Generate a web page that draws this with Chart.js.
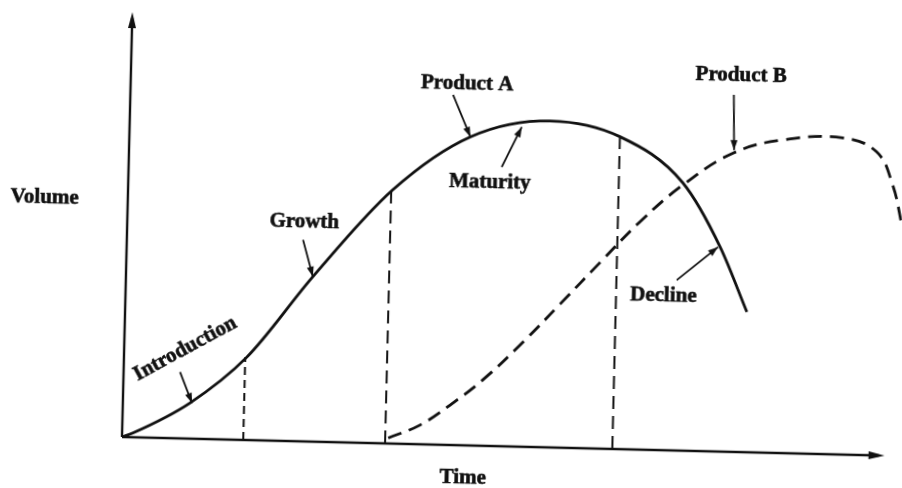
<!DOCTYPE html>
<html>
<head>
<meta charset="utf-8">
<script src="https://cdn.jsdelivr.net/npm/chart.js@4"></script>
<style>
    html, body { margin: 0; padding: 0; background: #fff; overflow: hidden; }
    #wrap { width: 902px; height: 488px; }
    /* the scan is turned a little clockwise */
    #chart1 { transform: rotate(1.4deg); transform-origin: 122px 437px; }
</style>
</head>
<body>
<div id="wrap"><canvas id="chart1" width="902" height="488"></canvas></div>
<script>
// Product life cycle (0-100 on both axes)
const productAX = [0, 1.4, 8.8, 16.1, 24.5, 34.7, 44.7, 55.1, 64.3, 72.7, 77.8, 81.5];
const productAY = [0, 1.0, 8.4, 19.5, 38.8, 59.7, 72.6, 76.8, 73.5, 63.0, 48.1, 33.0];
const productBX = [34.9, 39.0, 42.9, 47.1, 52.3, 57.0, 62.1, 67.2, 72.7, 79.2, 85.7, 93.5, 98.0, 100.2, 101.6];
const productBY = [1.3, 4.5, 9.4, 15.5, 24.7, 33.8, 43.8, 53.6, 62.5, 70.3, 73.7, 74.5, 71.4, 63.7, 53.9];

// stage boundaries (dashed verticals) and where they meet curve A
const stageX = [15.9, 34.5, 64.3];
const stageTop = [19.5, 59.7, 73.3];

const labelNames = ["Introduction", "Growth", "Product A", "Maturity", "Product B", "Decline"];

document.addEventListener("DOMContentLoaded", () => {
    const chartCanvas = document.getElementById("chart1");
    const font = "bold 21px 'Liberation Serif', 'DejaVu Serif', serif";

    // label anchor, rotation and arrow (tail -> head) in data units
    const callouts = [
        { at: [8.0, 21.1], angle: -29.9, tail: [7.4, 15.6], head: [9.07, 8.4] },
        { at: [23.2, 51.6], angle: 0, tail: [23.1, 47.4], head: [24.5, 38.8] },
        { at: [44.1, 85.0], angle: 0, tail: [42.3, 82.4], head: [44.7, 72.6] },
        { at: [47.4, 61.9], angle: 0, tail: [48.9, 65.7], head: [51.4, 75.2] },
        { at: [80.0, 88.5], angle: 0, tail: [79.1, 84.0], head: [79.3, 71.0] },
        { at: [70.5, 36.3], angle: 0, tail: [72.2, 40.1], head: [77.5, 48.1] }
    ];

    function toPoints(xs, ys) {
        return xs.map((x, i) => ({ x: x, y: ys[i] }));
    }

    function arrowHead(ctx, x1, y1, x2, y2, len, half) {
        const a = Math.atan2(y2 - y1, x2 - x1);
        ctx.beginPath();
        ctx.moveTo(x2, y2);
        ctx.lineTo(x2 - len * Math.cos(a) + half * Math.sin(a), y2 - len * Math.sin(a) - half * Math.cos(a));
        ctx.lineTo(x2 - len * Math.cos(a) - half * Math.sin(a), y2 - len * Math.sin(a) + half * Math.cos(a));
        ctx.closePath();
        ctx.fill();
    }

    function boldText(ctx, text, x, y) {
        ctx.font = font;
        ctx.textAlign = "center";
        ctx.textBaseline = "middle";
        ctx.lineWidth = 0.6;
        ctx.fillText(text, x, y);
        ctx.strokeText(text, x, y);
    }

    // axes with arrow heads
    const axesPlugin = {
        id: "axesPlugin",
        beforeDatasetsDraw(chart) {
            const ctx = chart.ctx;
            const xs = chart.scales.x, ys = chart.scales.y;
            const ox = xs.getPixelForValue(0), oy = ys.getPixelForValue(0);
            const tx = xs.getPixelForValue(100), ty = ys.getPixelForValue(100);
            ctx.save();
            ctx.strokeStyle = "#111";
            ctx.fillStyle = "#111";
            ctx.lineWidth = 2.4;
            ctx.beginPath();
            ctx.moveTo(ox, oy);
            ctx.lineTo(ox, ty + 6);
            ctx.moveTo(ox, oy);
            ctx.lineTo(tx - 6, oy);
            ctx.stroke();
            arrowHead(ctx, ox, oy, ox, ty, 16, 4);
            arrowHead(ctx, ox, oy, tx, oy, 16, 4);

            boldText(ctx, "Volume", xs.getPixelForValue(-10.9), ys.getPixelForValue(55.8));
            boldText(ctx, "Time", xs.getPixelForValue(44.8), ys.getPixelForValue(-7.7));
            ctx.restore();
        }
    };

    // stage labels with pointer arrows
    const calloutPlugin = {
        id: "calloutPlugin",
        afterDatasetsDraw(chart) {
            const ctx = chart.ctx;
            const xs = chart.scales.x, ys = chart.scales.y;
            ctx.save();
            ctx.strokeStyle = "#111";
            ctx.fillStyle = "#111";
            callouts.forEach((c, i) => {
                const x1 = xs.getPixelForValue(c.tail[0]), y1 = ys.getPixelForValue(c.tail[1]);
                const x2 = xs.getPixelForValue(c.head[0]), y2 = ys.getPixelForValue(c.head[1]);
                ctx.lineWidth = 1.8;
                ctx.beginPath();
                ctx.moveTo(x1, y1);
                ctx.lineTo(x2, y2);
                ctx.stroke();
                arrowHead(ctx, x1, y1, x2, y2, 10, 3.5);

                ctx.save();
                ctx.translate(xs.getPixelForValue(c.at[0]), ys.getPixelForValue(c.at[1]));
                ctx.rotate(c.angle * Math.PI / 180);
                boldText(ctx, labelNames[i], 0, 0);
                ctx.restore();
            });
            ctx.restore();
        }
    };

    const stageSets = stageX.map((x, i) => ({
        label: "Stage " + (i + 1),
        data: [{ x: x, y: 0 }, { x: x, y: stageTop[i] }],
        borderColor: "#111",
        borderWidth: 2,
        borderDash: i === 0 ? [8, 5] : [13, 7],
        pointRadius: 0,
        tension: 0
    }));

    new Chart(chartCanvas.getContext("2d"), {
        type: "line",
        data: {
            datasets: [
                {
                    label: "Product A",
                    data: toPoints(productAX, productAY),
                    borderColor: "#111",
                    borderWidth: 2.8,
                    pointRadius: 0,
                    cubicInterpolationMode: "monotone"
                },
                {
                    label: "Product B",
                    data: toPoints(productBX, productBY),
                    borderColor: "#111",
                    borderWidth: 2.8,
                    borderDash: [14, 8],
                    pointRadius: 0,
                    tension: 0.4,
                    clip: false
                }
            ].concat(stageSets)
        },
        options: {
            responsive: false,
            animation: false,
            events: [],
            layout: { padding: { left: 122, right: 2, top: 12, bottom: 51 } },
            plugins: {
                legend: { display: false },
                tooltip: { enabled: false }
            },
            scales: {
                x: { type: "linear", min: 0, max: 102, display: false },
                y: { type: "linear", min: 0, max: 100, display: false }
            }
        },
        plugins: [axesPlugin, calloutPlugin]
    });
});
</script>
</body>
</html>
